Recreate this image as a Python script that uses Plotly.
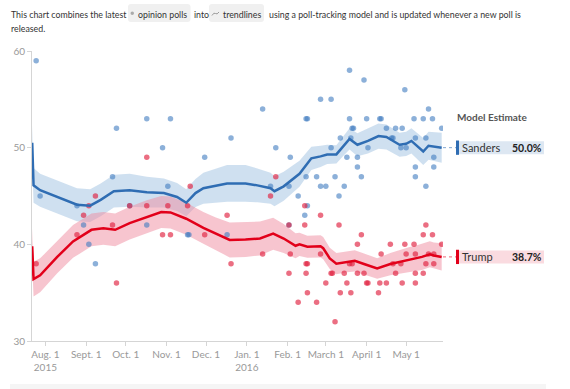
import plotly.graph_objects as go
import pandas as pd

BASE = pd.Timestamp("2015-08-01")


def to_dates(days):
    return [BASE + pd.Timedelta(days=d) for d in days]


# ---------------- data ----------------
# poll dates are given as days since Aug. 1, 2015
sanders_poll_days = [-7, 54, -11, -4, 51, 24, 29, 33, 38, 64,
                     77, 95, 89, 141, 121, 93, 77, 108, 109, 138,
                     231, 242, 273, 165, 209, 217, 198, 199, 231, 244, 254, 255, 280, 287, 294, 291,
                     233, 234, 259, 266, 271, 301,
                     224, 232, 263, 264, 281, 289,
                     175, 217, 245, 270, 274,
                     186, 229, 237, 295,
                     237, 281, 295,
                     198, 206, 220, 240, 281,
                     171, 185, 209, 213, 227, 289,
                     192, 223,
                     199, 197, 185]
sanders_poll_values = [59, 52, 47, 45, 47, 44, 42, 40, 38, 44,
                       53, 53, 50, 51, 49, 46, 42, 41, 41, 41,
                       58, 57, 56, 54, 55, 55, 53, 53, 53, 53, 53, 53, 53, 53, 53, 54,
                       52, 52, 52, 52, 52, 52,
                       51, 51, 51, 51, 51, 51,
                       50, 50, 50, 50, 50,
                       49, 49, 49, 49,
                       48, 48, 48,
                       47, 47, 47, 47, 47,
                       46, 46, 46, 46, 46, 46,
                       45, 45,
                       44, 43, 42]

trump_poll_days = [38, 33, 29, 24, 51, -7, -11, 54, 64,
                   77, 110, 77, 93, 108, 89, 95, 121, 138, 141,
                   175, 171, 165, 185, 186, 185, 197, 197, 198, 199, 198, 199, 192, 206,
                   209, 209, 213, 217, 218, 220, 223, 224, 227, 229, 232, 231, 233,
                   237, 237, 240, 242, 244, 245, 253, 254, 255, 259, 262, 264, 266,
                   270, 271, 273, 274, 280, 281, 281, 281, 287, 287, 289, 289, 291,
                   294, 295, 295, 301]
trump_poll_values = [45, 44, 43, 41, 42, 38, 37, 36, 44,
                     49, 46, 44, 44, 44, 41, 41, 41, 43, 38,
                     47, 45, 39, 42, 39, 37, 44, 42, 38, 38, 37, 35, 34, 34,
                     43, 39, 36, 37, 37, 32, 42, 35, 37, 36, 35, 38, 38,
                     37, 40, 41, 37, 36, 36, 35, 36, 39, 36, 40, 38, 37,
                     38, 36, 40, 39, 40, 39, 37, 36, 41, 37, 42, 38, 39,
                     41, 39, 38, 40]

sanders_trend_days = [-10, -9, -4, 9, 24, 34, 42, 52, 64, 77, 90, 100, 107, 114, 120,
                      138, 152, 161, 171, 174, 181, 193, 199, 202, 209, 214, 221, 226,
                      231, 237, 245, 253, 259, 269, 274, 278, 287, 291, 301]
sanders_trend_values = [50.5, 46.1, 45.6, 44.9, 44.1, 44.0, 44.6, 45.5, 45.6, 45.4, 45.3,
                        44.9, 44.3, 45.3, 45.8, 46.3, 46.3, 46.1, 45.8, 45.5, 46.0, 47.3,
                        48.4, 48.9, 49.1, 49.3, 49.3, 50.1, 50.9, 50.3, 50.7, 51.2, 51.1,
                        50.3, 50.4, 50.7, 49.6, 50.2, 50.0]
sanders_trend_error = [1.8, 1.8, 1.7, 1.7, 1.7, 1.7, 1.7, 1.7, 1.7, 1.6, 1.5, 1.45, 1.4,
                       1.45, 1.6, 1.9, 1.9, 1.75, 1.6, 1.55, 1.5, 1.35, 1.3, 1.2, 1.1,
                       1.0, 0.95, 1.0, 1.1, 1.2, 1.3, 1.3, 1.3, 1.25, 1.25, 1.3, 1.4,
                       1.45, 1.55]

trump_trend_days = [-10, -9, -4, 9, 21, 35, 44, 53, 64, 77, 88, 95, 107, 120, 129, 140,
                    152, 163, 173, 181, 190, 193, 199, 209, 211, 216, 221, 229, 235, 242,
                    252, 262, 271, 276, 281, 286, 292, 295, 301]
trump_trend_values = [39.8, 36.4, 36.8, 38.7, 40.3, 41.5, 41.65, 41.5, 42.2, 42.85, 43.35,
                      43.3, 42.65, 41.7, 41.1, 40.45, 40.5, 40.6, 41.1, 40.6, 39.85, 40.0,
                      39.75, 39.8, 39.6, 38.55, 38.0, 38.2, 38.3, 37.96, 37.5, 37.96,
                      38.27, 38.4, 38.55, 38.7, 38.97, 38.85, 38.7]
trump_trend_error = [1.8, 1.8, 1.75, 1.7, 1.7, 1.7, 1.7, 1.7, 1.7, 1.7, 1.65, 1.65, 1.65,
                     1.65, 1.7, 1.8, 1.8, 1.75, 1.65, 1.5, 1.3, 1.2, 1.15, 1.15, 1.15,
                     1.1, 1.1, 1.1, 1.1, 1.1, 1.05, 1.15, 1.25, 1.3, 1.3, 1.35, 1.35,
                     1.35, 1.4]

candidates = ["Sanders", "Trump"]
estimates = [50.0, 38.7]

tick_dates = ["2015-08-01", "2015-09-01", "2015-10-01", "2015-11-01", "2015-12-01",
              "2016-01-01", "2016-02-01", "2016-03-01", "2016-04-01", "2016-05-01"]
tick_labels = ["Aug. 1<br>2015", "Sept. 1", "Oct. 1", "Nov. 1", "Dec. 1",
               "Jan. 1<br>2016", "Feb. 1", "March 1", "April 1", "May 1"]
y_ticks = [30, 40, 50, 60]

# ---------------- styles ----------------
W, H = 570, 389
L, R, T, B = 32, 127, 51, 48
PW, PH = W - L - R, H - T - B
FONT = "Lato, 'Open Sans', sans-serif"

BLUE_LINE = "#2f6db3"
BLUE_DOT = "rgba(63,124,192,0.6)"
BLUE_BAND = "rgba(160,193,225,0.5)"
BLUE_BOX = "#dde7f2"
RED_LINE = "#e2001a"
RED_DOT = "rgba(224,32,63,0.65)"
RED_BAND = "rgba(240,140,160,0.5)"
RED_BOX = "#fadbe0"


def px(x):
    return (x - L) / PW


def py(y):
    return (H - B - y) / PH


fig = go.Figure()


def band(days, vals, errs, color):
    d = to_dates(days)
    up = [v + e for v, e in zip(vals, errs)]
    lo = [v - e for v, e in zip(vals, errs)]
    fig.add_trace(go.Scatter(x=d + d[::-1], y=up + lo[::-1], fill="toself",
                             fillcolor=color, line=dict(width=0), mode="lines",
                             hoverinfo="skip", showlegend=False))


band(sanders_trend_days, sanders_trend_values, sanders_trend_error, BLUE_BAND)
band(trump_trend_days, trump_trend_values, trump_trend_error, RED_BAND)

fig.add_trace(go.Scatter(x=to_dates(sanders_poll_days), y=sanders_poll_values, mode="markers",
                         marker=dict(size=5.5, color=BLUE_DOT), showlegend=False))
fig.add_trace(go.Scatter(x=to_dates(trump_poll_days), y=trump_poll_values, mode="markers",
                         marker=dict(size=5.5, color=RED_DOT), showlegend=False))

fig.add_trace(go.Scatter(x=to_dates(sanders_trend_days), y=sanders_trend_values, mode="lines",
                         line=dict(color=BLUE_LINE, width=2.5), showlegend=False))
fig.add_trace(go.Scatter(x=to_dates(trump_trend_days), y=trump_trend_values, mode="lines",
                         line=dict(color=RED_LINE, width=2.5), showlegend=False))

shapes = []
annotations = []

# ----- model estimate labels -----
annotations.append(dict(xref="paper", yref="paper", x=px(455), y=py(117), xanchor="left",
                        yanchor="middle", text="<b>Model Estimate</b>", showarrow=False,
                        font=dict(family=FONT, size=10, color="#555")))
for name, est, lc, bc in zip(candidates, estimates, [BLUE_LINE, RED_LINE], [BLUE_BOX, RED_BOX]):
    half = 6.5 / (PH / 30.0)
    shapes.append(dict(type="line", xref="paper", yref="y", x0=1.0, x1=px(456), y0=est, y1=est,
                       line=dict(color=lc, width=1, dash="dot"), opacity=0.6))
    shapes.append(dict(type="rect", xref="paper", yref="y", x0=px(456), x1=px(544),
                       y0=est - half, y1=est + half, fillcolor=bc, line=dict(width=0)))
    shapes.append(dict(type="rect", xref="paper", yref="y", x0=px(456), x1=px(459),
                       y0=est - half * 1.1, y1=est + half * 1.1, fillcolor=lc, line=dict(width=0)))
    annotations.append(dict(xref="paper", yref="y", x=px(460), y=est, xanchor="left",
                            yanchor="middle", text=name, showarrow=False,
                            font=dict(family=FONT, size=11, color="#333")))
    annotations.append(dict(xref="paper", yref="y", x=px(544), y=est, xanchor="right",
                            yanchor="middle", text="<b>%.1f%%</b>" % est, showarrow=False,
                            font=dict(family=FONT, size=10.5, color="#222")))


# ----- header -----
def rrect(x0, y0, x1, y1, r=3):
    def P(x, y):
        return "%f,%f" % (px(x), py(y))
    return ("M" + P(x0 + r, y0) + " L" + P(x1 - r, y0) + " Q" + P(x1, y0) + " " + P(x1, y0 + r) +
            " L" + P(x1, y1 - r) + " Q" + P(x1, y1) + " " + P(x1 - r, y1) +
            " L" + P(x0 + r, y1) + " Q" + P(x0, y1) + " " + P(x0, y1 - r) +
            " L" + P(x0, y0 + r) + " Q" + P(x0, y0) + " " + P(x0 + r, y0) + " Z")


shapes.append(dict(type="path", xref="paper", yref="paper", path=rrect(128, 4, 190.5, 22),
                   fillcolor="#f0f0f0", line=dict(width=0)))
shapes.append(dict(type="path", xref="paper", yref="paper", path=rrect(209, 4, 264, 22),
                   fillcolor="#f0f0f0", line=dict(width=0)))
shapes.append(dict(type="circle", xref="paper", yref="paper", x0=px(130.5), x1=px(134),
                   y0=py(11.5), y1=py(15), fillcolor="#aaa", line=dict(width=0)))
shapes.append(dict(type="path", xref="paper", yref="paper",
                   path="M%f,%f Q%f,%f %f,%f Q%f,%f %f,%f" % (
                       px(212), py(15.5), px(214), py(12), px(215.5), py(13.5),
                       px(217), py(15), px(219), py(12)),
                   line=dict(color="#999", width=1)))

hdr_font = dict(family=FONT, size=8.8, color="#333")
for txt, x, y in [("This chart combines the latest", 9, 14),
                  ("opinion polls", 135.5, 14),
                  ("into", 192, 14),
                  ("trendlines", 220.5, 14),
                  ("using a poll-tracking model and is updated whenever a new poll is", 267, 14),
                  ("released.", 9, 28.5)]:
    annotations.append(dict(xref="paper", yref="paper", x=px(x), y=py(y), xanchor="left",
                            yanchor="middle", text=txt, showarrow=False, font=hdr_font))

# bottom grey panel
shapes.append(dict(type="rect", xref="paper", yref="paper", x0=px(10), x1=px(546),
                   y0=py(384), y1=py(395), fillcolor="#f5f5f5", line=dict(width=0)))

fig.update_layout(
    width=W, height=H,
    margin=dict(l=L, r=R, t=T, b=B),
    paper_bgcolor="white", plot_bgcolor="white",
    font=dict(family=FONT),
    showlegend=False,
    hovermode=False,
    shapes=shapes,
    annotations=annotations,
    xaxis=dict(type="date", range=["2015-07-21 20:00", "2016-05-29"],
               tickmode="array", tickvals=tick_dates, ticktext=tick_labels,
               showgrid=False, zeroline=False, showline=True, linecolor="#d5d5d5", linewidth=1,
               ticks="outside", ticklen=4, tickcolor="#d5d5d5",
               tickfont=dict(family=FONT, size=10, color="#999"), fixedrange=True),
    yaxis=dict(range=[30, 60], tickmode="array", tickvals=y_ticks,
               showgrid=False, zeroline=False, showline=True, linecolor="#d5d5d5", linewidth=1,
               ticks="outside", ticklen=4, tickcolor="#d5d5d5",
               tickfont=dict(family=FONT, size=10, color="#999"), fixedrange=True),
)

fig.write_html("out.html", config=dict(displayModeBar=False),
               post_script="document.body.style.margin='0';document.body.style.overflow='hidden';")
